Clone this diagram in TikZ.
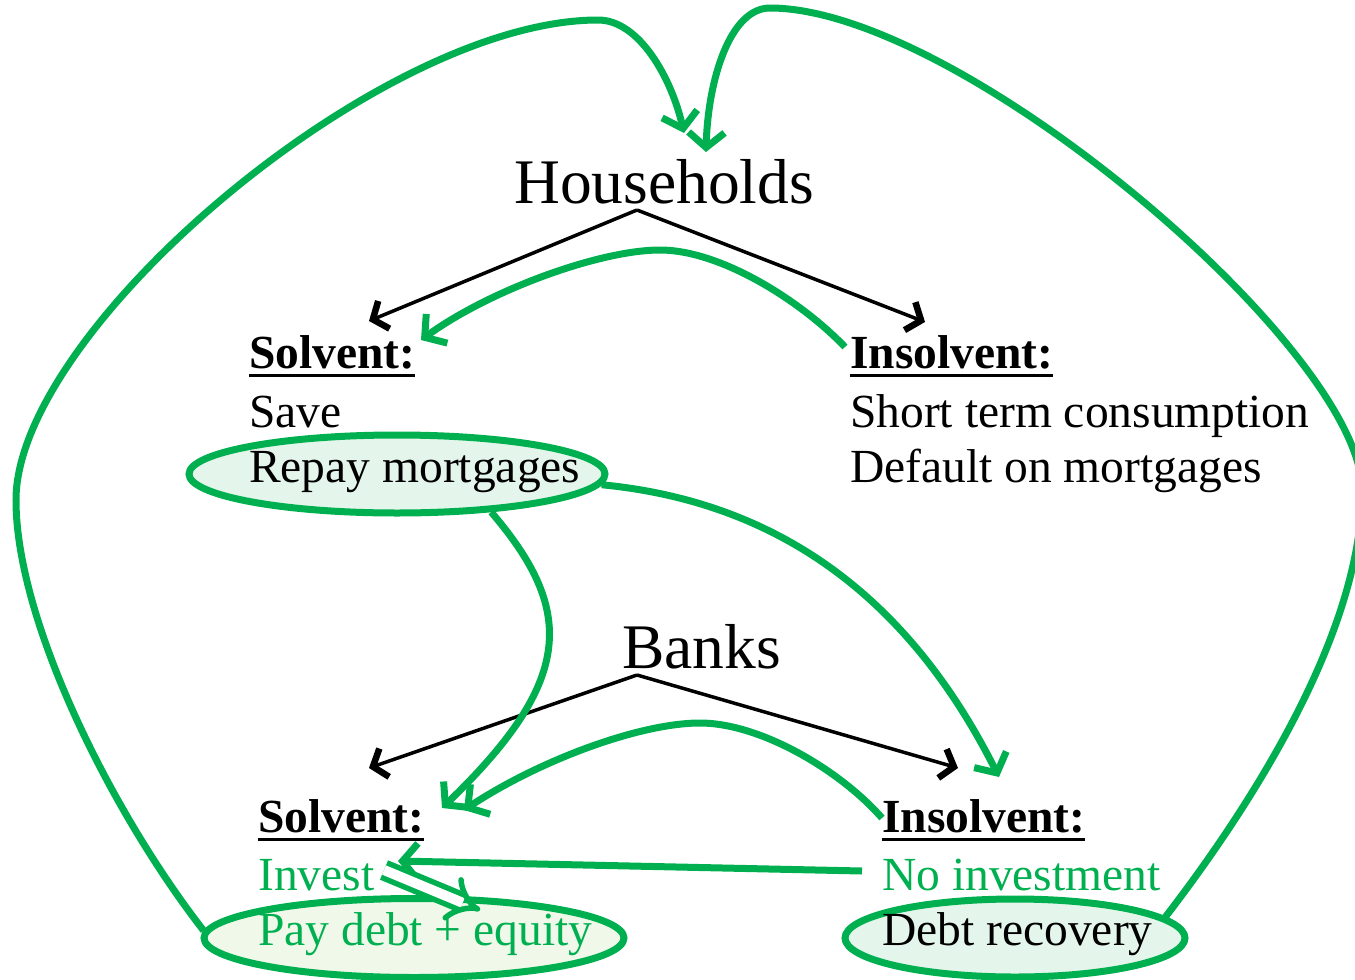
\documentclass[tikz,border=0pt]{standalone}
\usepackage{fontspec}
\setmainfont{Liberation Serif}
\usetikzlibrary{arrows.meta,shapes.geometric}
\definecolor{pgreen}{HTML}{00B050}
\definecolor{mintfill}{HTML}{E4F5EC}
\definecolor{palefill}{HTML}{F0F8EA}
\newcommand{\myul}[1]{\setbox0\hbox{#1}\rlap{\rule[-9pt]{\wd0}{3.5pt}}\box0}
\tikzset{
  big/.style={anchor=base west, inner sep=0pt, font=\fontsize{63.5}{70}\selectfont},
  txt/.style={anchor=base west, inner sep=0pt, font=\fontsize{47.5}{57}\selectfont},
  gtxt/.style={txt, text=pgreen},
  oval/.style={ellipse, draw=pgreen, line width=7pt, inner sep=0pt},
  blk/.style={draw=black, line width=3.5pt, -{Straight Barb[length=12pt,width=30pt,line width=6.5pt]}},
  grn/.style={draw=pgreen, line width=7pt, -{Straight Barb[length=15pt,width=36pt]}},
}
\begin{document}
\begin{tikzpicture}[x=1pt,y=-1pt]
\useasboundingbox (0,0) rectangle (1355,980);
% ellipses
\node[oval, fill=mintfill, minimum width=416pt, minimum height=78pt] (rep) at (397,474) {};
\node[oval, fill=palefill, minimum width=420pt, minimum height=79pt] (pd) at (414,938) {};
\node[oval, fill=mintfill, minimum width=340pt, minimum height=78pt] (dr) at (1015,938) {};
% texts
\node[big] (hh) at (514,203) {Households};
\node[big] (bk) at (622,668) {Banks};
\node[txt] (hs) at (249,368) {\myul{\textbf{Solvent:}}};
\node[txt] (hsave) at (249,427) {Save};
\node[txt] (hrep) at (249,482) {Repay mortgages};
\node[txt] (hi) at (850,368) {\myul{\textbf{Insolvent:}}};
\node[txt] (hst) at (850,427) {Short term consumption};
\node[txt] (hdef) at (850,482) {Default on mortgages};
\node[txt] (bs) at (258,832) {\myul{\textbf{Solvent:}}};
\node[gtxt] (binv) at (258,890) {Invest};
\node[gtxt] (bpay) at (258,945) {Pay debt + equity};
\node[txt] (bi) at (882,832) {\myul{\textbf{Insolvent:}}};
\node[gtxt] (bno) at (882,890) {No investment};
\node[txt] (bdr) at (882,945) {Debt recovery};
% coordinates
\coordinate (hapex) at (637,210);
\coordinate (hsT) at (369,321);
\coordinate (hiT) at (925,322);
\coordinate (bapex) at (637,675);
\coordinate (bsT) at (369,768);
\coordinate (biT) at (958,768);
\coordinate (hhL) at (684,133);
\coordinate (hhR) at (706,152);
\coordinate (hiS) at (845,347);
\coordinate (hsG) at (421,340);
\coordinate (biS) at (882,818);
\coordinate (bsG) at (464,810);
\coordinate (bsG2) at (442,808);
\coordinate (biG) at (999,777);
\coordinate (noS) at (862,871);
\coordinate (invT) at (398,861);
\coordinate (invS) at (384,870);
\coordinate (pdT) at (480,910);
% black arrows
\draw[blk] (hapex) -- (hsT);
\draw[blk] (hapex) -- (hiT);
\draw[blk] (bapex) -- (bsT);
\draw[blk] (bapex) -- (biT);
% green arcs
\draw[grn] (hiS) .. controls (800,300) and (720,250) .. (660,250)
  .. controls (600,250) and (490,290) .. (hsG);
\draw[grn] (biS) .. controls (840,770) and (760,723) .. (700,723)
  .. controls (640,723) and (540,760) .. (bsG);
\draw[grn] (rep.-22) .. controls (575,610) and (575,680) .. (bsG2);
\draw[grn] (rep.-3) .. controls (760,500) and (900,580) .. (biG);
% big loops
\draw[grn] (pd.178) .. controls (110,810) and (16,620) .. (16,500)
  .. controls (16,330) and (380,20) .. (598,20)
  .. controls (640,20) and (672,80) .. (hhL);
\draw[grn] (dr.8) .. controls (1240,820) and (1362,640) .. (1362,490)
  .. controls (1362,350) and (960,8) .. (770,8)
  .. controls (730,8) and (708,80) .. (hhR);
% no investment arrow
\draw[grn] (noS) -- (invT);
% double arrow
\draw[draw=pgreen, line width=5.5pt, double=white, double distance=10pt, -{Implies}] (invS) -- (pdT);
\end{tikzpicture}
\end{document}
